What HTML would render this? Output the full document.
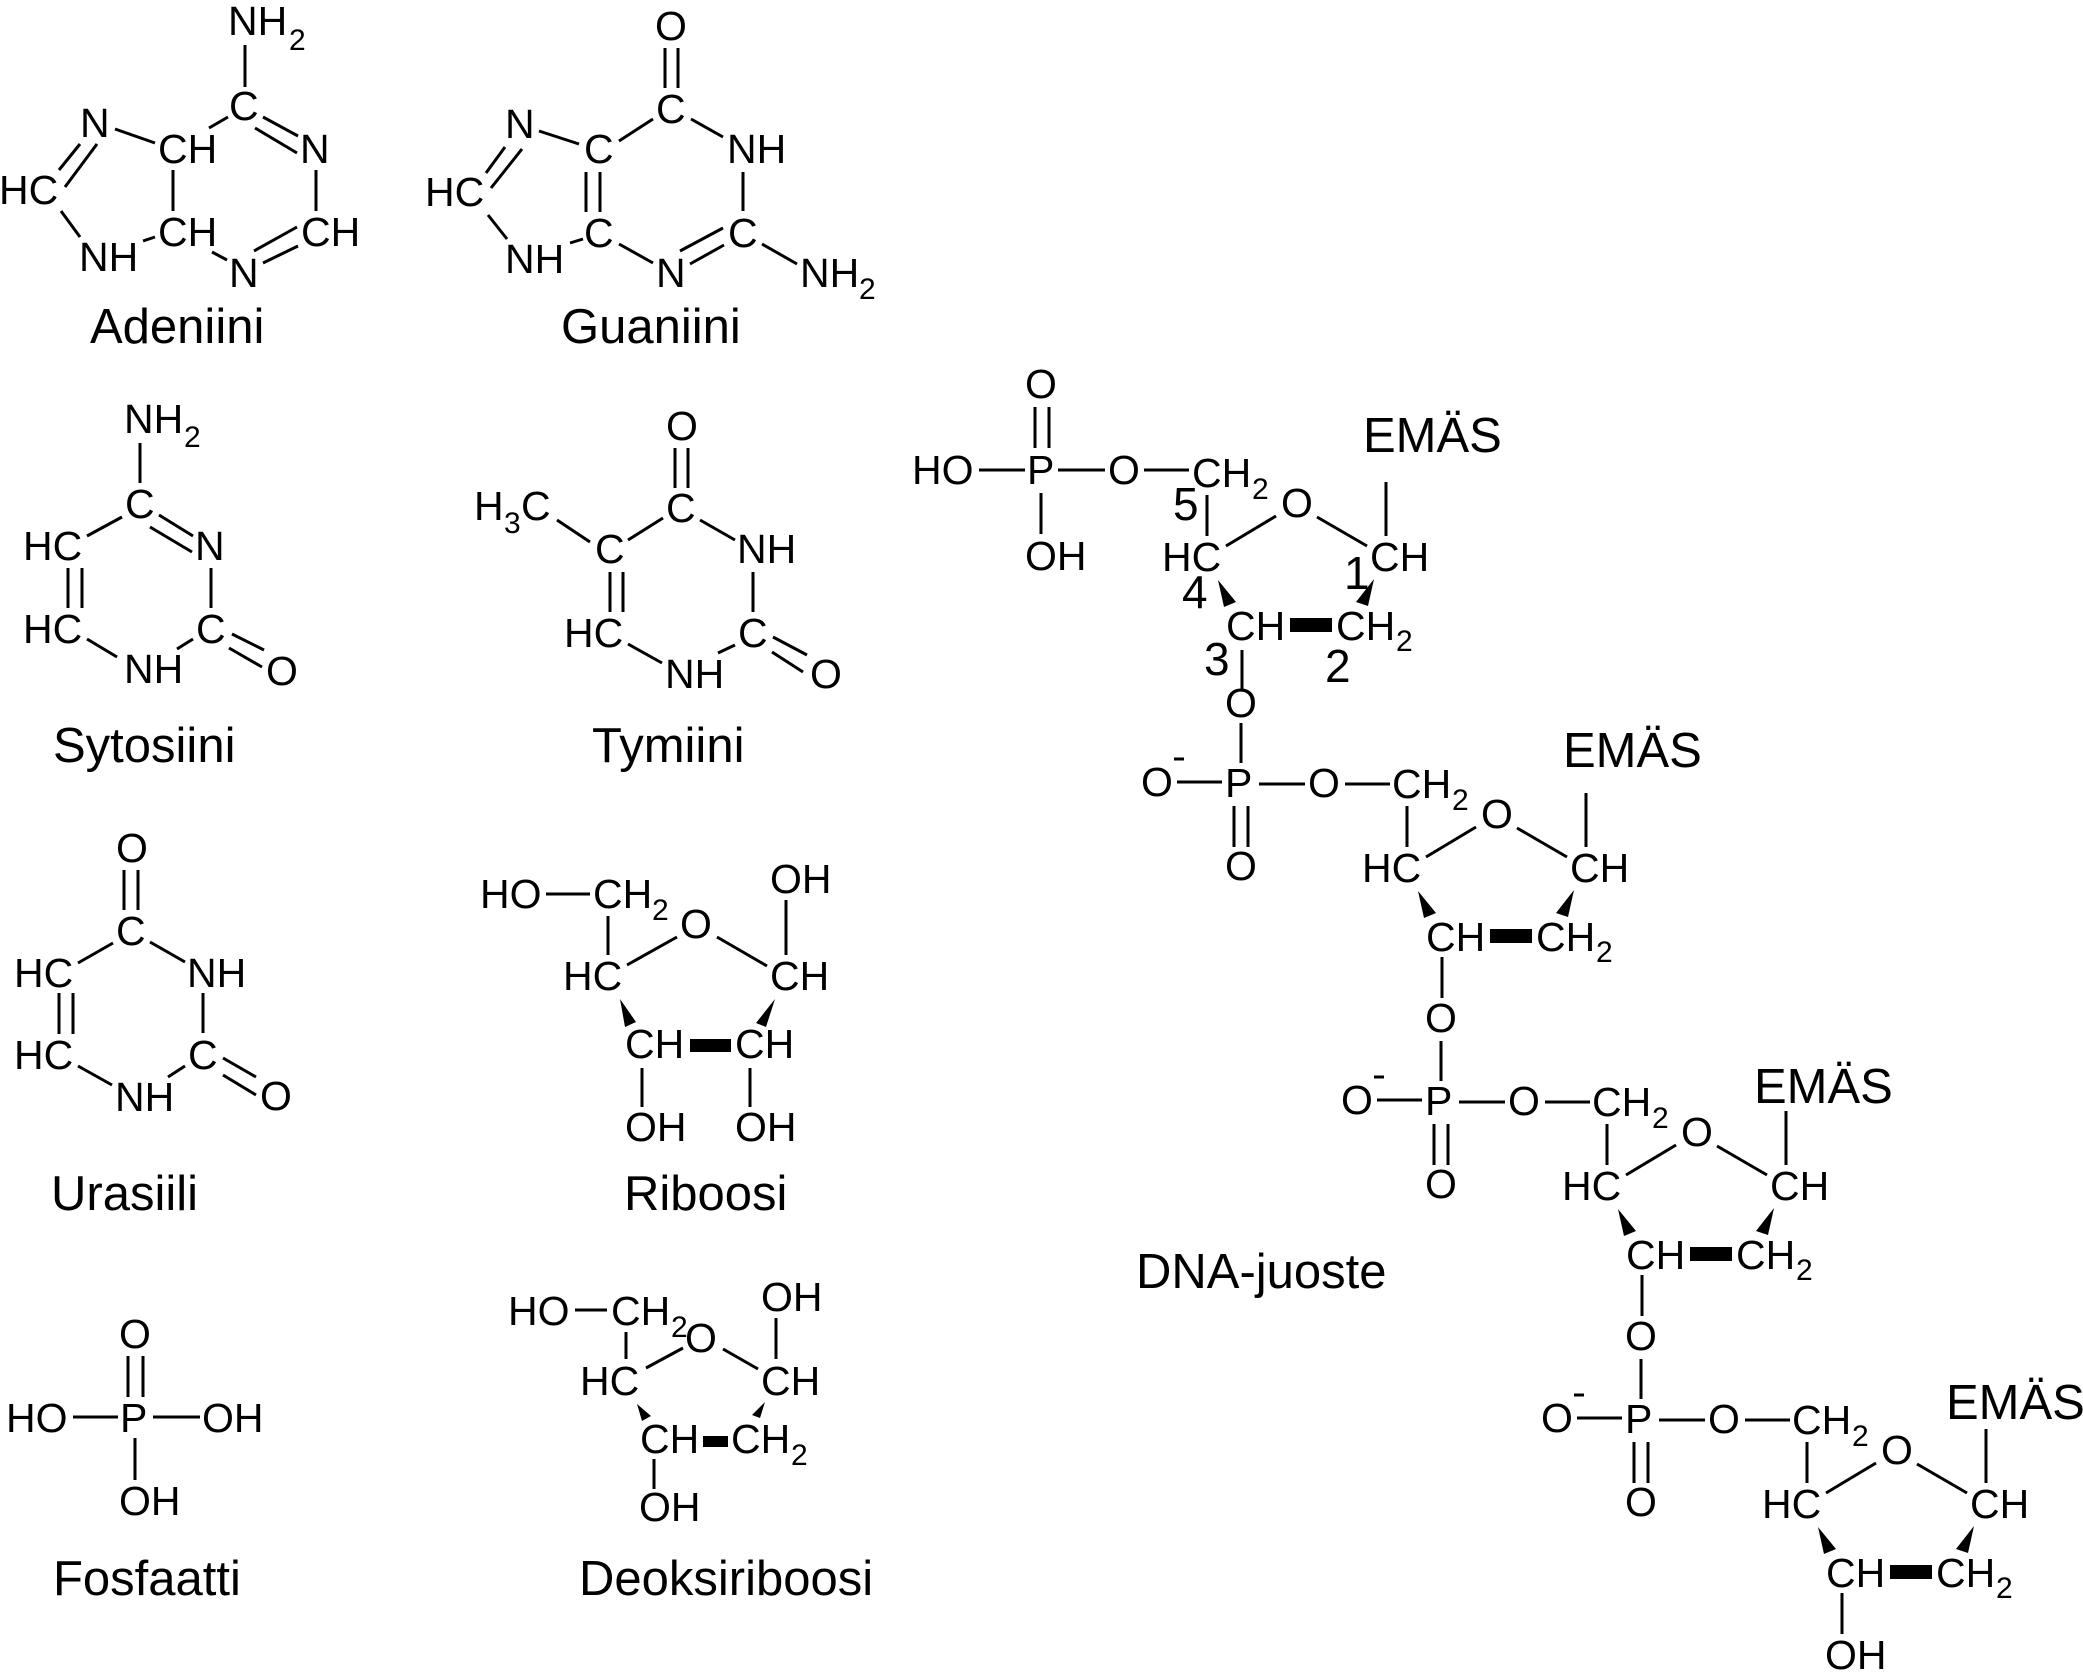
<!DOCTYPE html>
<html><head><meta charset="utf-8"><style>
html,body{margin:0;padding:0;background:#fff;}
svg{display:block;}
text{font-family:"Liberation Sans",Arial,sans-serif;fill:#000;}
.a{font-size:41px;}
.s{font-size:30px;}
.l{font-size:49px;}
.n{font-size:46px;}
line{stroke:#000;stroke-width:3;}
</style></head><body>
<svg width="2083" height="1679" viewBox="0 0 2083 1679" xmlns="http://www.w3.org/2000/svg">
<rect width="2083" height="1679" fill="#fff"/>

<!-- Adenine -->
<g class="a">
<text x="228" y="35">NH</text><text class="s" x="289" y="50">2</text>
<text x="229" y="120">C</text>
<text x="80" y="137">N</text>
<text x="158" y="163">CH</text>
<text x="300" y="163">N</text>
<text x="-1" y="204">HC</text>
<text x="158" y="246">CH</text>
<text x="301" y="246">CH</text>
<text x="79" y="271">NH</text>
<text x="229" y="287">N</text>
</g>
<line x1="245" y1="45" x2="245" y2="87"/>
<line x1="115" y1="129" x2="155" y2="143"/>
<line x1="209" y1="128" x2="228" y2="117"/>
<line x1="263" y1="117" x2="298" y2="136"/><line x1="255" y1="128" x2="297" y2="153"/>
<line x1="316" y1="170" x2="316" y2="211"/>
<line x1="254" y1="251" x2="297" y2="227"/><line x1="263" y1="263" x2="298" y2="246"/>
<line x1="212" y1="252" x2="227" y2="260"/>
<line x1="173" y1="170" x2="173" y2="211"/>
<line x1="143" y1="241" x2="155" y2="237"/>
<line x1="61" y1="211" x2="80" y2="237"/>
<line x1="59" y1="170" x2="80" y2="144"/><line x1="65" y1="187" x2="97" y2="144"/>
<text class="l" x="90" y="343">Adeniini</text>

<!-- Guanine -->
<g class="a">
<text x="655" y="40">O</text>
<text x="656" y="123">C</text>
<text x="505" y="138">N</text>
<text x="584" y="163">C</text>
<text x="727" y="163">NH</text>
<text x="425" y="206">HC</text>
<text x="584" y="247">C</text>
<text x="728" y="247">C</text>
<text x="505" y="273">NH</text>
<text x="656" y="287">N</text>
<text x="800" y="287">NH</text><text class="s" x="859" y="299">2</text>
</g>
<line x1="665" y1="48" x2="665" y2="88"/><line x1="678" y1="48" x2="678" y2="88"/>
<line x1="539" y1="131" x2="579" y2="144"/>
<line x1="619" y1="141" x2="653" y2="119"/>
<line x1="691" y1="119" x2="723" y2="137"/>
<line x1="743" y1="172" x2="743" y2="211"/>
<line x1="680" y1="251" x2="723" y2="228"/><line x1="690" y1="264" x2="724" y2="245"/>
<line x1="619" y1="244" x2="653" y2="263"/>
<line x1="762" y1="244" x2="797" y2="264"/>
<line x1="586" y1="172" x2="586" y2="212"/><line x1="600" y1="172" x2="600" y2="212"/>
<line x1="570" y1="243" x2="583" y2="239"/>
<line x1="488" y1="215" x2="507" y2="239"/>
<line x1="486" y1="173" x2="505" y2="147"/><line x1="491" y1="188" x2="522" y2="149"/>
<text class="l" x="561" y="343">Guaniini</text>

<!-- Cytosine -->
<g class="a">
<text x="124" y="433">NH</text><text class="s" x="184" y="447">2</text>
<text x="125" y="518">C</text>
<text x="23" y="560">HC</text>
<text x="195" y="560">N</text>
<text x="23" y="643">HC</text>
<text x="196" y="643">C</text>
<text x="124" y="683">NH</text>
<text x="266" y="685">O</text>
</g>
<line x1="140" y1="443" x2="140" y2="483"/>
<line x1="87" y1="536" x2="122" y2="517"/>
<line x1="159" y1="515" x2="193" y2="536"/><line x1="150" y1="527" x2="192" y2="552"/>
<line x1="211" y1="568" x2="211" y2="608"/>
<line x1="68" y1="568" x2="68" y2="608"/><line x1="82" y1="568" x2="82" y2="608"/>
<line x1="87" y1="639" x2="117" y2="657"/>
<line x1="177" y1="649" x2="193" y2="639"/>
<line x1="232" y1="634" x2="264" y2="650"/><line x1="229" y1="648" x2="262" y2="667"/>
<text class="l" x="53" y="762">Sytosiini</text>

<!-- Thymine -->
<g class="a">
<text x="666" y="440">O</text>
<text x="666" y="522">C</text>
<text x="474" y="520">H</text><text class="s" x="504" y="533">3</text><text x="521" y="520">C</text>
<text x="595" y="563">C</text>
<text x="737" y="563">NH</text>
<text x="564" y="647">HC</text>
<text x="738" y="647">C</text>
<text x="665" y="688">NH</text>
<text x="810" y="688">O</text>
</g>
<line x1="675" y1="448" x2="675" y2="488"/><line x1="688" y1="448" x2="688" y2="488"/>
<line x1="557" y1="520" x2="590" y2="542"/>
<line x1="628" y1="540" x2="663" y2="518"/>
<line x1="700" y1="520" x2="735" y2="540"/>
<line x1="753" y1="572" x2="753" y2="612"/>
<line x1="610" y1="572" x2="610" y2="612"/><line x1="623" y1="572" x2="623" y2="612"/>
<line x1="628" y1="644" x2="662" y2="663"/>
<line x1="718" y1="653" x2="735" y2="645"/>
<line x1="773" y1="637" x2="807" y2="655"/><line x1="772" y1="652" x2="803" y2="672"/>
<text class="l" x="592" y="762">Tymiini</text>

<!-- Uracil -->
<g class="a">
<text x="116" y="862">O</text>
<text x="116" y="945">C</text>
<text x="14" y="987">HC</text>
<text x="187" y="987">NH</text>
<text x="14" y="1069">HC</text>
<text x="188" y="1069">C</text>
<text x="115" y="1111">NH</text>
<text x="260" y="1110">O</text>
</g>
<line x1="124" y1="870" x2="124" y2="910"/><line x1="138" y1="870" x2="138" y2="910"/>
<line x1="78" y1="963" x2="113" y2="943"/>
<line x1="150" y1="942" x2="185" y2="962"/>
<line x1="203" y1="993" x2="203" y2="1033"/>
<line x1="59" y1="993" x2="59" y2="1034"/><line x1="73" y1="993" x2="73" y2="1034"/>
<line x1="78" y1="1066" x2="112" y2="1085"/>
<line x1="168" y1="1077" x2="185" y2="1066"/>
<line x1="223" y1="1058" x2="256" y2="1077"/><line x1="223" y1="1075" x2="256" y2="1095"/>
<text class="l" x="51" y="1210">Urasiili</text>

<!-- Ribose -->
<g class="a">
<text x="480" y="908">HO</text>
<text x="593" y="908">CH</text><text class="s" x="652" y="920">2</text>
<text x="770" y="893">OH</text>
<text x="680" y="938">O</text>
<text x="563" y="990">HC</text>
<text x="770" y="990">CH</text>
<text x="625" y="1058">CH</text>
<text x="735" y="1058">CH</text>
<text x="625" y="1141">OH</text>
<text x="735" y="1141">OH</text>
</g>
<line x1="546" y1="894" x2="590" y2="894"/>
<line x1="608" y1="916" x2="608" y2="955"/>
<line x1="627" y1="965" x2="677" y2="937"/>
<line x1="717" y1="937" x2="767" y2="966"/>
<line x1="786" y1="900" x2="786" y2="955"/>
<polygon points="620,999 625,1027 636,1022" fill="#000"/>
<polygon points="775,999 756,1023 766,1027" fill="#000"/>
<rect x="690" y="1039" width="41" height="13" fill="#000"/>
<line x1="642" y1="1068" x2="642" y2="1107"/>
<line x1="750" y1="1068" x2="750" y2="1107"/>
<text class="l" x="624" y="1210">Riboosi</text>

<!-- Phosphate -->
<g class="a">
<text x="119" y="1348">O</text>
<text x="6" y="1432">HO</text>
<text x="120" y="1432">P</text>
<text x="202" y="1432">OH</text>
<text x="119" y="1515">OH</text>
</g>
<line x1="128" y1="1356" x2="128" y2="1397"/><line x1="143" y1="1356" x2="143" y2="1397"/>
<line x1="73" y1="1417" x2="118" y2="1417"/>
<line x1="153" y1="1417" x2="200" y2="1417"/>
<line x1="135" y1="1438" x2="135" y2="1480"/>
<text class="l" x="53" y="1595">Fosfaatti</text>

<!-- Deoxyribose -->
<g class="a">
<text x="508" y="1325">HO</text>
<text x="611" y="1325">CH</text><text class="s" x="671" y="1337">2</text>
<text x="685" y="1352">O</text>
<text x="761" y="1311">OH</text>
<text x="580" y="1395">HC</text>
<text x="761" y="1395">CH</text>
<text x="640" y="1453">CH</text>
<text x="731" y="1453">CH</text><text class="s" x="791" y="1465">2</text>
<text x="639" y="1521">OH</text>
</g>
<line x1="575" y1="1310" x2="607" y2="1310"/>
<line x1="626" y1="1332" x2="626" y2="1359"/>
<line x1="646" y1="1368" x2="683" y2="1348"/>
<line x1="723" y1="1349" x2="758" y2="1369"/>
<line x1="776" y1="1318" x2="776" y2="1359"/>
<polygon points="637,1404 642,1421 651,1416" fill="#000"/>
<polygon points="765,1402 752,1415 760,1418" fill="#000"/>
<rect x="703" y="1436" width="25" height="11" fill="#000"/>
<line x1="654" y1="1459" x2="654" y2="1489"/>
<text class="l" x="579" y="1595">Deoksiriboosi</text>

<!-- DNA strand: unit 1 phosphate -->
<g class="a">
<text x="1025" y="398">O</text>
<text x="912" y="484">HO</text>
<text x="1027" y="484">P</text>
<text x="1108" y="484">O</text>
<text x="1025" y="570">OH</text>
<text x="1225" y="717">O</text>
</g>
<line x1="1035" y1="407" x2="1035" y2="448"/><line x1="1049" y1="407" x2="1049" y2="448"/>
<line x1="979" y1="470" x2="1025" y2="470"/>
<line x1="1058" y1="470" x2="1105" y2="470"/>
<line x1="1144" y1="470" x2="1189" y2="470"/>
<line x1="1041" y1="493" x2="1041" y2="534"/>
<line x1="1242" y1="650" x2="1242" y2="690"/>
<g class="n">
<text x="1173" y="520">5</text>
<text x="1182" y="608">4</text>
<text x="1204" y="675">3</text>
<text x="1325" y="682">2</text>
<text x="1344" y="589">1</text>
</g>
<text class="l" x="1363" y="452">EMÄS</text>
<text class="l" x="1563" y="767">EMÄS</text>
<text class="l" x="1754" y="1103">EMÄS</text>
<text class="l" x="1946" y="1419">EMÄS</text>
<text class="l" x="1136" y="1288">DNA-juoste</text>

<!-- Ring for unit 1 (translated from unit 2 coordinates) -->
<g transform="translate(-200,-311)">
<g class="a">
<text x="1392" y="798">CH</text><text class="s" x="1452" y="810">2</text>
<text x="1481" y="828">O</text>
<text x="1362" y="882">HC</text>
<text x="1570" y="882">CH</text>
<text x="1426" y="951">CH</text>
<text x="1536" y="951">CH</text><text class="s" x="1596" y="962">2</text>
</g>
<line x1="1407" y1="806" x2="1407" y2="847"/>
<line x1="1426" y1="857" x2="1476" y2="827"/>
<line x1="1517" y1="828" x2="1567" y2="857"/>
<line x1="1586" y1="793" x2="1586" y2="847"/>
<polygon points="1418,891 1424,918 1436,913" fill="#000"/>
<polygon points="1574,890 1556,913 1568,917" fill="#000"/>
<rect x="1490" y="929" width="42" height="14" fill="#000"/>
</g>

<!-- Unit 2 -->
<g>
<g class="a">
<text x="1141" y="796">O</text>
<text x="1225" y="797">P</text>
<text x="1308" y="797">O</text>
<text x="1225" y="880">O</text>
<text x="1392" y="798">CH</text><text class="s" x="1452" y="810">2</text>
<text x="1481" y="828">O</text>
<text x="1362" y="882">HC</text>
<text x="1570" y="882">CH</text>
<text x="1426" y="951">CH</text>
<text x="1536" y="951">CH</text><text class="s" x="1596" y="962">2</text>
<text x="1425" y="1032">O</text>
</g>
<line x1="1241" y1="723" x2="1241" y2="763"/>
<line x1="1174" y1="759" x2="1184" y2="759"/>
<line x1="1177" y1="782" x2="1222" y2="782"/>
<line x1="1259" y1="784" x2="1305" y2="784"/>
<line x1="1345" y1="784" x2="1390" y2="784"/>
<line x1="1234" y1="806" x2="1234" y2="847"/><line x1="1248" y1="806" x2="1248" y2="847"/>
<line x1="1407" y1="806" x2="1407" y2="847"/>
<line x1="1426" y1="857" x2="1476" y2="827"/>
<line x1="1517" y1="828" x2="1567" y2="857"/>
<line x1="1586" y1="793" x2="1586" y2="847"/>
<polygon points="1418,891 1424,918 1436,913" fill="#000"/>
<polygon points="1574,890 1556,913 1568,917" fill="#000"/>
<rect x="1490" y="929" width="42" height="14" fill="#000"/>
<line x1="1442" y1="957" x2="1442" y2="998"/>
</g>

<!-- Unit 3 -->
<g transform="translate(200,318)">
<g class="a">
<text x="1141" y="796">O</text>
<text x="1225" y="797">P</text>
<text x="1308" y="797">O</text>
<text x="1225" y="880">O</text>
<text x="1392" y="798">CH</text><text class="s" x="1452" y="810">2</text>
<text x="1481" y="828">O</text>
<text x="1362" y="882">HC</text>
<text x="1570" y="882">CH</text>
<text x="1426" y="951">CH</text>
<text x="1536" y="951">CH</text><text class="s" x="1596" y="962">2</text>
<text x="1425" y="1032">O</text>
</g>
<line x1="1241" y1="723" x2="1241" y2="763"/>
<line x1="1174" y1="759" x2="1184" y2="759"/>
<line x1="1177" y1="782" x2="1222" y2="782"/>
<line x1="1259" y1="784" x2="1305" y2="784"/>
<line x1="1345" y1="784" x2="1390" y2="784"/>
<line x1="1234" y1="806" x2="1234" y2="847"/><line x1="1248" y1="806" x2="1248" y2="847"/>
<line x1="1407" y1="806" x2="1407" y2="847"/>
<line x1="1426" y1="857" x2="1476" y2="827"/>
<line x1="1517" y1="828" x2="1567" y2="857"/>
<line x1="1586" y1="793" x2="1586" y2="847"/>
<polygon points="1418,891 1424,918 1436,913" fill="#000"/>
<polygon points="1574,890 1556,913 1568,917" fill="#000"/>
<rect x="1490" y="929" width="42" height="14" fill="#000"/>
<line x1="1442" y1="957" x2="1442" y2="998"/>
</g>

<!-- Unit 4 -->
<g transform="translate(400,636)">
<g class="a">
<text x="1141" y="796">O</text>
<text x="1225" y="797">P</text>
<text x="1308" y="797">O</text>
<text x="1225" y="880">O</text>
<text x="1392" y="798">CH</text><text class="s" x="1452" y="810">2</text>
<text x="1481" y="828">O</text>
<text x="1362" y="882">HC</text>
<text x="1570" y="882">CH</text>
<text x="1426" y="951">CH</text>
<text x="1536" y="951">CH</text><text class="s" x="1596" y="962">2</text>
<text x="1425" y="1033">OH</text>
</g>
<line x1="1241" y1="723" x2="1241" y2="763"/>
<line x1="1174" y1="759" x2="1184" y2="759"/>
<line x1="1177" y1="782" x2="1222" y2="782"/>
<line x1="1259" y1="784" x2="1305" y2="784"/>
<line x1="1345" y1="784" x2="1390" y2="784"/>
<line x1="1234" y1="806" x2="1234" y2="847"/><line x1="1248" y1="806" x2="1248" y2="847"/>
<line x1="1407" y1="806" x2="1407" y2="847"/>
<line x1="1426" y1="857" x2="1476" y2="827"/>
<line x1="1517" y1="828" x2="1567" y2="857"/>
<line x1="1586" y1="793" x2="1586" y2="847"/>
<polygon points="1418,891 1424,918 1436,913" fill="#000"/>
<polygon points="1574,890 1556,913 1568,917" fill="#000"/>
<rect x="1490" y="929" width="42" height="14" fill="#000"/>
<line x1="1442" y1="957" x2="1442" y2="998"/>
</g>
</svg>
</body></html>
